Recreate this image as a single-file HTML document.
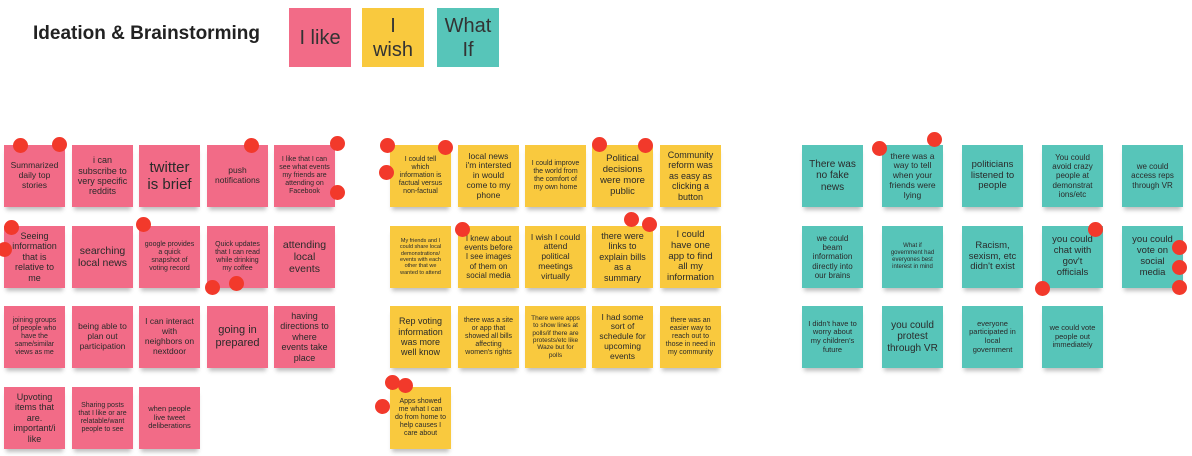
<!DOCTYPE html>
<html><head><style>
body{margin:0;width:1192px;height:456px;background:#fff;position:relative;overflow:hidden;font-family:"Liberation Sans",sans-serif}
.n{position:absolute;width:61px;height:62px;display:flex;align-items:center;justify-content:center;text-align:center;color:#2a2a2a;line-height:1.15;box-shadow:0 5px 4px -2px rgba(0,0,0,.25);overflow:hidden;padding:0 5px;box-sizing:border-box}
.p{background:#f26b87}.y{background:#f9c93e}.t{background:#57c5b9}
.d{position:absolute;width:15px;height:15px;border-radius:50%;background:#f2392b}
.h{position:absolute;display:flex;align-items:center;justify-content:center;text-align:center;font-size:20px;color:#333;line-height:1.2}
</style></head><body>
<div style="position:absolute;left:33px;top:23px;font-size:19px;font-weight:bold;color:#222">Ideation &amp; Brainstorming</div>
<div class="h p" style="left:289px;top:8px;width:62px;height:59px">I like</div>
<div class="h y" style="left:362px;top:8px;width:62px;height:59px">I<br>wish</div>
<div class="h t" style="left:437px;top:8px;width:62px;height:59px">What<br>If</div>

<!-- pink -->
<div class="n p" style="left:4px;top:145px;font-size:8.5px">Summarized daily top stories</div>
<div class="n p" style="left:72px;top:145px;font-size:9px">i can subscribe to very specific reddits</div>
<div class="n p" style="left:139px;top:145px;font-size:15px">twitter is brief</div>
<div class="n p" style="left:207px;top:145px;font-size:8.5px">push notifications</div>
<div class="n p" style="left:274px;top:145px;font-size:7px">I like that I can see what events my friends are attending on Facebook</div>
<div class="n p" style="left:4px;top:226px;font-size:9px">Seeing information that is relative to me</div>
<div class="n p" style="left:72px;top:226px;font-size:10.5px">searching local news</div>
<div class="n p" style="left:139px;top:226px;font-size:7px">google provides a quick snapshot of voting record</div>
<div class="n p" style="left:207px;top:226px;font-size:7px">Quick updates that I can read while drinking my coffee</div>
<div class="n p" style="left:274px;top:226px;font-size:10.5px">attending local events</div>
<div class="n p" style="left:4px;top:306px;font-size:7px">joining groups of people who have the same/similar views as me</div>
<div class="n p" style="left:72px;top:306px;font-size:8.5px">being able to plan out participation</div>
<div class="n p" style="left:139px;top:306px;font-size:8.5px">I can interact with neighbors on nextdoor</div>
<div class="n p" style="left:207px;top:306px;font-size:11px">going in prepared</div>
<div class="n p" style="left:274px;top:306px;font-size:9px">having directions to where events take place</div>
<div class="n p" style="left:4px;top:387px;font-size:9px">Upvoting items that are. important/i like</div>
<div class="n p" style="left:72px;top:387px;font-size:7px">Sharing posts that I like or are relatable/want people to see</div>
<div class="n p" style="left:139px;top:387px;font-size:7.5px">when people live tweet deliberations</div>

<!-- yellow -->
<div class="n y" style="left:390px;top:145px;font-size:7px">I could tell which information is factual versus non-factual</div>
<div class="n y" style="left:458px;top:145px;font-size:8.5px">local news i'm intersted in would come to my phone</div>
<div class="n y" style="left:525px;top:145px;font-size:7px">I could improve the world from the comfort of my own home</div>
<div class="n y" style="left:592px;top:145px;font-size:9.5px">Political decisions were more public</div>
<div class="n y" style="left:660px;top:145px;font-size:9px">Community reform was as easy as clicking a button</div>
<div class="n y" style="left:390px;top:226px;font-size:5.5px">My friends and I could share local demonstrations/ events with each other that we wanted to attend</div>
<div class="n y" style="left:458px;top:226px;font-size:8px">I knew about events before I see images of them on social media</div>
<div class="n y" style="left:525px;top:226px;font-size:8.5px">I wish I could attend political meetings virtually</div>
<div class="n y" style="left:592px;top:226px;font-size:9px">there were links to explain bills as a summary</div>
<div class="n y" style="left:660px;top:226px;font-size:9.5px">I could have one app to find all my information</div>
<div class="n y" style="left:390px;top:306px;font-size:9px">Rep voting information was more well know</div>
<div class="n y" style="left:458px;top:306px;font-size:7px">there was a site or app that showed all bills affecting women's rights</div>
<div class="n y" style="left:525px;top:306px;font-size:6.5px">There were apps to show lines at polls/if there are protests/etc like Waze but for polls</div>
<div class="n y" style="left:592px;top:306px;font-size:8.5px">I had some sort of schedule for upcoming events</div>
<div class="n y" style="left:660px;top:306px;font-size:7px">there was an easier way to reach out to those in need in my community</div>
<div class="n y" style="left:390px;top:387px;font-size:7px">Apps showed me what I can do from home to help causes I care about</div>

<!-- teal -->
<div class="n t" style="left:802px;top:145px;font-size:10px">There was no fake news</div>
<div class="n t" style="left:882px;top:145px;font-size:8.5px">there was a way to tell when your friends were lying</div>
<div class="n t" style="left:962px;top:145px;font-size:9.5px">politicians listened to people</div>
<div class="n t" style="left:1042px;top:145px;font-size:8px">You could avoid crazy people at demonstrat ions/etc</div>
<div class="n t" style="left:1122px;top:145px;font-size:8px">we could access reps through VR</div>
<div class="n t" style="left:802px;top:226px;font-size:8px">we could beam information directly into our brains</div>
<div class="n t" style="left:882px;top:226px;font-size:6px">What if government had everyones best interest in mind</div>
<div class="n t" style="left:962px;top:226px;font-size:9.5px">Racism, sexism, etc didn't exist</div>
<div class="n t" style="left:1042px;top:226px;font-size:9.5px">you could chat with gov't officials</div>
<div class="n t" style="left:1122px;top:226px;font-size:9.5px">you could vote on social media</div>
<div class="n t" style="left:802px;top:306px;font-size:7.5px">I didn't have to worry about my children's future</div>
<div class="n t" style="left:882px;top:306px;font-size:10px">you could protest through VR</div>
<div class="n t" style="left:962px;top:306px;font-size:7.5px">everyone participated in local government</div>
<div class="n t" style="left:1042px;top:306px;font-size:7.5px">we could vote people out immediately</div>

<!-- dots -->
<div class="d" style="left:13px;top:138px"></div>
<div class="d" style="left:52px;top:137px"></div>
<div class="d" style="left:244px;top:138px"></div>
<div class="d" style="left:330px;top:136px"></div>
<div class="d" style="left:330px;top:185px"></div>
<div class="d" style="left:4px;top:220px"></div>
<div class="d" style="left:-3px;top:242px"></div>
<div class="d" style="left:136px;top:217px"></div>
<div class="d" style="left:205px;top:280px"></div>
<div class="d" style="left:229px;top:276px"></div>
<div class="d" style="left:380px;top:138px"></div>
<div class="d" style="left:438px;top:140px"></div>
<div class="d" style="left:379px;top:165px"></div>
<div class="d" style="left:592px;top:137px"></div>
<div class="d" style="left:638px;top:138px"></div>
<div class="d" style="left:455px;top:222px"></div>
<div class="d" style="left:624px;top:212px"></div>
<div class="d" style="left:642px;top:217px"></div>
<div class="d" style="left:385px;top:375px"></div>
<div class="d" style="left:398px;top:378px"></div>
<div class="d" style="left:375px;top:399px"></div>
<div class="d" style="left:872px;top:141px"></div>
<div class="d" style="left:927px;top:132px"></div>
<div class="d" style="left:1088px;top:222px"></div>
<div class="d" style="left:1172px;top:240px"></div>
<div class="d" style="left:1172px;top:260px"></div>
<div class="d" style="left:1172px;top:280px"></div>
<div class="d" style="left:1035px;top:281px"></div>
</body></html>
